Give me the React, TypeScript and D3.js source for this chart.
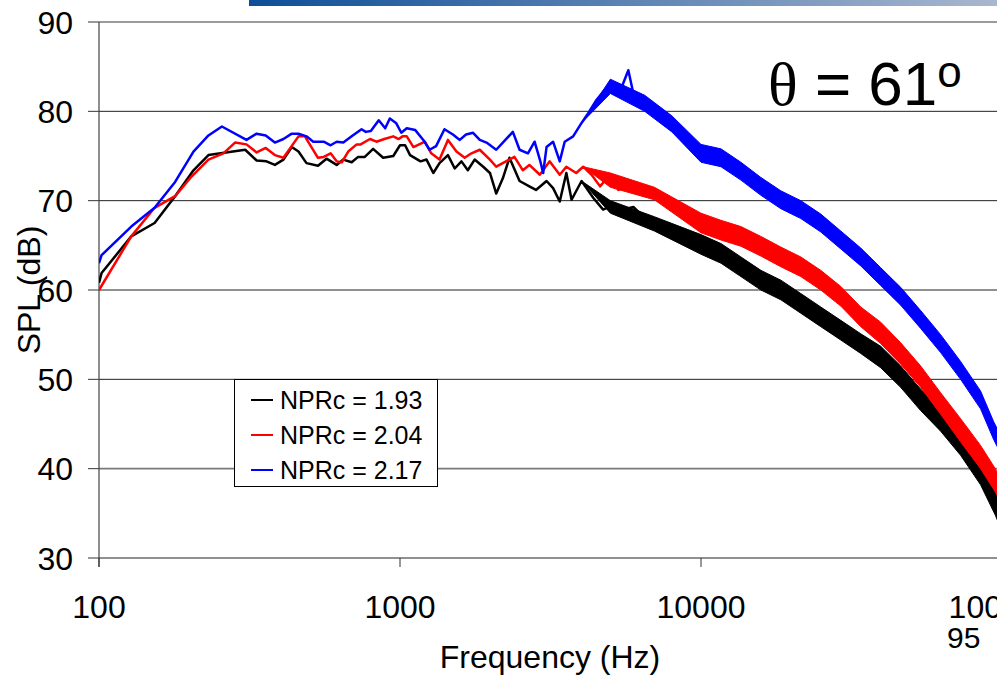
import React from 'react';
import * as d3 from 'd3';

// spectra: frequency (Hz) and SPL (dB)
const blackFreq = [100, 102, 128, 153, 179, 206, 231, 306, 334, 360, 384, 410, 437, 460, 489, 534, 570, 616, 648, 691, 726, 764, 814, 879, 950, 1000, 1040, 1080, 1170, 1225, 1290, 1353, 1443, 1520, 1600, 1680, 1770, 1890, 1990, 2088, 2196, 2310, 2496, 2690, 2830, 3068, 3226, 3394, 3570, 3715, 4011, 4390, 4730, 5110, 5510, 5960, 6430, 6940, 7500, 8100, 8770, 9470, 10000, 11650, 13570, 15810, 18420, 21460, 25000, 29130, 33940, 39540, 46060, 53670, 62530, 72850, 84870, 95000, 98000];
const blackDb = [60.8, 61.9, 66.0, 67.5, 70.5, 73.4, 75.1, 75.7, 74.5, 74.4, 74.0, 74.6, 76.0, 75.5, 74.2, 73.9, 74.7, 74.0, 74.6, 74.3, 74.9, 74.9, 75.8, 74.8, 75.0, 76.2, 76.2, 75.1, 74.4, 74.6, 73.1, 74.2, 75.1, 73.6, 74.4, 73.4, 74.6, 73.8, 73.1, 70.8, 72.5, 74.8, 72.2, 71.6, 71.2, 72.2, 71.4, 69.9, 73.1, 70.1, 72.2, 70.3, 69.0, 69.5, 69.0, 69.3, 68.2, 67.5, 66.9, 66.0, 65.4, 65.4, 65.2, 64.1, 62.6, 61.1, 60.0, 58.5, 57.0, 55.5, 54.0, 52.5, 50.3, 47.7, 45.5, 42.8, 39.5, 36.1, 35.0];

const redFreq = [100, 128, 153, 179, 203, 231, 259, 283, 309, 334, 358, 384, 410, 460, 483, 534, 558, 588, 616, 641, 673, 718, 740, 795, 835, 887, 950, 990, 1020, 1053, 1108, 1210, 1270, 1353, 1443, 1540, 1640, 1728, 1841, 1990, 2088, 2250, 2400, 2560, 2690, 2915, 3140, 3394, 3570, 3850, 4060, 4330, 4620, 4980, 5310, 5660, 5960, 6600, 6940, 7410, 7910, 8540, 9220, 9840, 10000, 11650, 13570, 15810, 18420, 21460, 25000, 29130, 33940, 39540, 46060, 53670, 62530, 72850, 84870, 95000, 98000];
const redDb = [60.0, 66.0, 69.2, 70.5, 72.7, 74.6, 75.3, 76.5, 76.3, 75.4, 75.9, 75.1, 74.8, 77.2, 77.2, 74.8, 74.9, 75.3, 74.4, 74.3, 75.5, 76.3, 76.3, 76.9, 76.6, 76.9, 77.2, 76.9, 77.2, 77.2, 76.0, 76.6, 75.3, 74.6, 76.8, 75.5, 74.8, 75.3, 75.7, 74.6, 73.8, 74.4, 74.9, 73.4, 74.0, 72.9, 74.4, 72.9, 73.8, 73.1, 73.8, 72.9, 71.6, 72.9, 71.2, 71.6, 71.0, 70.5, 71.2, 69.9, 69.3, 68.6, 68.2, 67.8, 67.5, 66.7, 66.0, 64.9, 63.7, 62.6, 61.1, 59.3, 57.0, 55.2, 52.9, 50.3, 47.3, 44.3, 41.3, 38.7, 37.8];

const blueFreq = [100, 102, 128, 153, 179, 206, 231, 256, 309, 334, 358, 384, 410, 437, 460, 489, 515, 558, 588, 616, 648, 691, 745, 770, 800, 850, 893, 925, 970, 1010, 1053, 1124, 1195, 1254, 1318, 1405, 1499, 1580, 1657, 1749, 1841, 1938, 2088, 2196, 2371, 2496, 2661, 2800, 2915, 2990, 3068, 3225, 3394, 3525, 3760, 4011, 4220, 4500, 4730, 5045, 5378, 5736, 5960, 6275, 6690, 7230, 7710, 8220, 8770, 9470, 9840, 10000, 11650, 13570, 15810, 18420, 21460, 25000, 29130, 33940, 39540, 46060, 53670, 62530, 72850, 84870, 93700, 98000];
const blueDb = [63.0, 63.9, 67.1, 69.2, 72.1, 75.5, 77.3, 78.3, 76.8, 77.5, 77.3, 76.5, 76.9, 77.5, 77.5, 77.2, 76.6, 76.6, 76.2, 76.6, 76.5, 77.2, 78.0, 77.7, 77.8, 79.0, 78.1, 79.2, 78.7, 77.6, 78.1, 77.9, 76.8, 75.7, 76.1, 78.0, 77.4, 76.8, 77.4, 77.6, 76.8, 76.5, 75.7, 76.5, 77.7, 75.7, 75.3, 76.6, 74.6, 73.1, 76.0, 76.6, 74.4, 76.6, 77.2, 78.7, 79.8, 81.3, 82.2, 83.1, 82.2, 84.6, 82.0, 81.7, 80.2, 79.8, 78.9, 77.9, 77.4, 76.2, 75.7, 75.3, 74.8, 73.3, 71.6, 70.1, 69.0, 67.5, 65.6, 63.7, 61.5, 59.3, 56.7, 54.0, 51.0, 47.7, 44.3, 43.0];

// noisy high-frequency part: lower and upper edge of the band
const blackBandFreq = [4011, 5000, 7000, 10000, 11650, 13570, 15810, 18420, 21460, 25000, 29130, 33940, 39540, 46060, 53670, 62530, 72850, 84870, 95000, 98000];
const blackBandLo = [72.2, 68.6, 66.6, 64.0, 63.0, 61.5, 60.0, 58.9, 57.4, 55.9, 54.4, 52.9, 51.3, 49.1, 46.5, 44.2, 41.5, 38.2, 34.8, 33.7];
const blackBandHi = [72.2, 70.0, 68.2, 66.2, 65.2, 63.7, 62.2, 61.1, 59.6, 58.1, 56.6, 55.1, 53.7, 51.5, 48.9, 46.8, 44.1, 40.8, 37.4, 36.3];

const redBandFreq = [4060, 5000, 7000, 10000, 11650, 13570, 15810, 18420, 21460, 25000, 29130, 33940, 39540, 46060, 53670, 62530, 72850, 84870, 95000, 98000];
const redBandLo = [73.8, 71.5, 70.1, 66.4, 65.6, 64.9, 63.8, 62.6, 61.5, 60.0, 58.2, 55.9, 54.0, 51.7, 49.1, 46.1, 43.0, 40.0, 37.4, 36.5];
const redBandHi = [73.8, 73.1, 71.5, 68.6, 67.8, 67.1, 66.0, 64.8, 63.7, 62.2, 60.4, 58.1, 56.4, 54.1, 51.5, 48.5, 45.6, 42.6, 40.0, 39.1];

const blueBandFreq = [4011, 5000, 6500, 8000, 10000, 11650, 13570, 15810, 18420, 21460, 25000, 29130, 33940, 39540, 46060, 53670, 62530, 72850, 84870, 93700, 98000];
const blueBandLo = [78.7, 82.0, 80.0, 77.7, 74.3, 73.8, 72.3, 70.6, 69.1, 68.0, 66.5, 64.6, 62.7, 60.5, 58.3, 55.7, 53.0, 50.0, 46.7, 43.3, 42.0];
const blueBandHi = [78.7, 83.6, 81.8, 79.5, 76.3, 75.8, 74.3, 72.6, 71.1, 70.0, 68.5, 66.6, 64.7, 62.5, 60.3, 57.7, 55.0, 52.0, 48.7, 45.3, 44.0];

const yTicks = [30, 40, 50, 60, 70, 80, 90];
const xTicks = [100, 1000, 10000, 100000];
const legendLabels = ['NPRc = 1.93', 'NPRc = 2.04', 'NPRc = 2.17'];
const colors = ['#000000', '#ff0000', '#0000ff'];

const W = 997;
const H = 678;
const FONT = '"Liberation Sans", Arial, sans-serif';

export default function App() {
  const x = d3.scaleLog().domain([100, 100000]).range([99, 1002]);
  const y = d3.scaleLinear().domain([30, 90]).range([558, 22]);

  const series = [
    { freq: blackFreq, db: blackDb, bf: blackBandFreq, lo: blackBandLo, hi: blackBandHi },
    { freq: redFreq, db: redDb, bf: redBandFreq, lo: redBandLo, hi: redBandHi },
    { freq: blueFreq, db: blueDb, bf: blueBandFreq, lo: blueBandLo, hi: blueBandHi },
  ];

  const line = d3.line<[number, number]>()
    .x(d => x(d[0]))
    .y(d => y(d[1]));

  const area = d3.area<[number, number, number]>()
    .x(d => x(d[0]))
    .y0(d => y(d[1]))
    .y1(d => y(d[2]));

  return (
    <div style={{ position: 'fixed', left: 0, top: 0 }}>
      <svg width={W} height={H} style={{ display: 'block', background: '#fff' }}>
        <defs>
          <linearGradient id="topbar" x1="0" x2="1" y1="0" y2="0">
            <stop offset="0%" stopColor="#0d4e97" />
            <stop offset="100%" stopColor="#a9b7cf" />
          </linearGradient>
          <clipPath id="plot">
            <rect x={99} y={0} width={W - 99} height={558} />
          </clipPath>
        </defs>

        <rect x={249} y={0} width={W - 249} height={6} fill="url(#topbar)" />

        {/* grid + y ticks */}
        {yTicks.map(t => {
          const soft = t === 90 || t === 40;
          return (
            <g key={t}>
              <line x1={99} x2={W} y1={y(t)} y2={y(t)}
                stroke={soft ? '#7a7a7a' : '#222'} strokeWidth={soft ? 1.6 : 1} />
              <line x1={88} x2={99} y1={y(t)} y2={y(t)} stroke="#333" strokeWidth={1} />
              <text x={73} y={y(t)} dy="0.36em" textAnchor="end" fontSize={32}
                fontFamily={FONT} fill="#000">{t}</text>
            </g>
          );
        })}

        {/* y axis */}
        <line x1={99} x2={99} y1={22} y2={567} stroke="#444" strokeWidth={1.2} />

        {/* x ticks */}
        {xTicks.map(t => (
          <g key={t}>
            <line x1={x(t)} x2={x(t)} y1={558} y2={567} stroke="#333" strokeWidth={1} />
            <text x={x(t)} y={618} textAnchor="middle" fontSize={32}
              fontFamily={FONT} fill="#000">{t}</text>
          </g>
        ))}

        {/* series */}
        <g clipPath="url(#plot)">
          {series.map((s, i) => {
            const pts = s.freq.map((f, k) => [f, s.db[k]] as [number, number]);
            const band = s.bf.map((f, k) => [f, s.lo[k], s.hi[k]] as [number, number, number]);
            return (
              <g key={i}>
                <path d={area(band) || ''} fill={colors[i]} stroke={colors[i]} strokeWidth={1}
                  strokeLinejoin="round" />
                <path d={line(pts) || ''} fill="none" stroke={colors[i]} strokeWidth={2.5}
                  strokeLinejoin="round" />
              </g>
            );
          })}
        </g>

        {/* axis titles */}
        <text x={550} y={668} textAnchor="middle" fontSize={32} fontFamily={FONT}
          fill="#000">Frequency (Hz)</text>
        <text transform="translate(40,290) rotate(-90)" textAnchor="middle" fontSize={32}
          fontFamily={FONT} fill="#000">SPL (dB)</text>

        {/* slide number */}
        <text x={947} y={648} fontSize={30} fontFamily={FONT} fill="#000">95</text>

        {/* angle label */}
        <text x={768} y={105} fontSize={62} fill="#000">
          <tspan fontFamily='"Liberation Serif", "Times New Roman", serif'>θ</tspan>
          <tspan fontFamily={FONT}> = 61</tspan>
          <tspan fontFamily={FONT} fontSize={44} dy={-18}>o</tspan>
        </text>

        {/* legend */}
        <rect x={234.5} y={379.5} width={203} height={107} fill="#fff" stroke="#000" strokeWidth={1} />
        {legendLabels.map((l, i) => {
          const cy = 400 + i * 35;
          return (
            <g key={l}>
              <line x1={251} x2={273} y1={cy} y2={cy} stroke={colors[i]} strokeWidth={2} />
              <text x={280} y={cy} dy="0.36em" fontSize={25} fontFamily={FONT} fill="#000">{l}</text>
            </g>
          );
        })}
      </svg>
    </div>
  );
}
